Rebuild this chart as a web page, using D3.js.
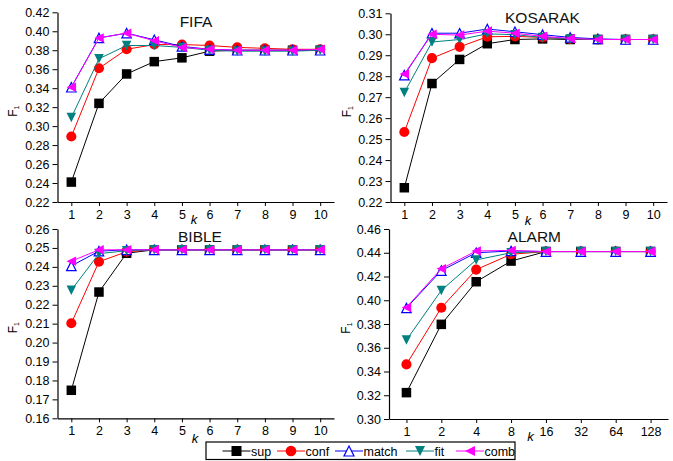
<!DOCTYPE html>
<html>
<head>
<meta charset="utf-8">
<script src="https://cdn.jsdelivr.net/npm/d3@7"></script>
<style>
  body { margin: 0; background: #fff; }
  text { font-family: "Liberation Sans", Arial, sans-serif; font-weight: normal; }
</style>
</head>
<body>
<svg id="chart" width="673" height="461"></svg>
<script>
// ---- data ----
const kLinear = [1, 2, 3, 4, 5, 6, 7, 8, 9, 10];
const kAlarm = [1, 2, 4, 8, 16, 32, 64, 128];
const seriesNames = ['sup', 'conf', 'match', 'fit', 'comb'];
const seriesColors = ['#000000', '#ff0000', '#0000ff', '#008080', '#ff00ff'];

const fifaSup   = [0.241, 0.324, 0.355, 0.368, 0.372, 0.379, 0.380, 0.380, 0.380, 0.380];
const fifaConf  = [0.289, 0.361, 0.381, 0.386, 0.386, 0.385, 0.383, 0.382, 0.381, 0.381];
const fifaMatch = [0.341, 0.393, 0.398, 0.391, 0.384, 0.381, 0.380, 0.380, 0.380, 0.380];
const fifaFit   = [0.309, 0.371, 0.385, 0.385, 0.383, 0.380, 0.379, 0.379, 0.379, 0.380];
const fifaComb  = [0.341, 0.393, 0.398, 0.390, 0.383, 0.381, 0.380, 0.380, 0.380, 0.381];

const kosSup   = [0.2268, 0.2765, 0.2880, 0.2955, 0.2975, 0.2978, 0.2975, 0.2975, 0.2975, 0.2975];
const kosConf  = [0.2534, 0.2886, 0.2940, 0.2988, 0.2990, 0.2985, 0.2978, 0.2975, 0.2975, 0.2975];
const kosMatch = [0.2805, 0.3005, 0.3005, 0.3025, 0.3012, 0.2998, 0.2985, 0.2978, 0.2975, 0.2975];
const kosFit   = [0.2722, 0.2963, 0.2975, 0.3002, 0.2998, 0.2985, 0.2978, 0.2975, 0.2975, 0.2975];
const kosComb  = [0.2810, 0.3000, 0.2996, 0.3015, 0.3005, 0.2990, 0.2980, 0.2975, 0.2975, 0.2975];

const bibSup   = [0.1748, 0.2267, 0.2472, 0.2490, 0.2490, 0.2490, 0.2490, 0.2490, 0.2490, 0.2490];
const bibConf  = [0.2102, 0.2427, 0.2480, 0.2490, 0.2490, 0.2490, 0.2490, 0.2490, 0.2490, 0.2490];
const bibMatch = [0.2405, 0.2483, 0.2490, 0.2490, 0.2490, 0.2490, 0.2490, 0.2490, 0.2490, 0.2490];
const bibFit   = [0.2277, 0.2470, 0.2485, 0.2490, 0.2490, 0.2490, 0.2490, 0.2490, 0.2490, 0.2490];
const bibComb  = [0.2430, 0.2490, 0.2490, 0.2490, 0.2490, 0.2490, 0.2490, 0.2490, 0.2490, 0.2490];

const alaSup   = [0.3222, 0.3797, 0.4156, 0.4330, 0.4410, 0.4410, 0.4410, 0.4410];
const alaConf  = [0.3460, 0.3937, 0.4258, 0.4387, 0.4410, 0.4410, 0.4410, 0.4410];
const alaMatch = [0.3935, 0.4250, 0.4400, 0.4415, 0.4410, 0.4410, 0.4410, 0.4410];
const alaFit   = [0.3665, 0.4083, 0.4340, 0.4400, 0.4410, 0.4410, 0.4410, 0.4410];
const alaComb  = [0.3940, 0.4265, 0.4415, 0.4420, 0.4410, 0.4410, 0.4410, 0.4410];

const fifaTicks = [0.22, 0.24, 0.26, 0.28, 0.30, 0.32, 0.34, 0.36, 0.38, 0.40, 0.42];
const kosTicks  = [0.22, 0.23, 0.24, 0.25, 0.26, 0.27, 0.28, 0.29, 0.30, 0.31];
const bibTicks  = [0.16, 0.17, 0.18, 0.19, 0.20, 0.21, 0.22, 0.23, 0.24, 0.25, 0.26];
const alaTicks  = [0.30, 0.32, 0.34, 0.36, 0.38, 0.40, 0.42, 0.44, 0.46];

// ---- layout ----
const panels = [
    { title: 'FIFA', k: kLinear, values: [fifaSup, fifaConf, fifaMatch, fifaFit, fifaComb], ticks: fifaTicks,
      xr: [57.5, 334], yr: [202, 12.3], titleX: 196, titleY: 26.5, kX: 194, kY: 224, fX: 17 },
    { title: 'KOSARAK', k: kLinear, values: [kosSup, kosConf, kosMatch, kosFit, kosComb], ticks: kosTicks,
      xr: [390.5, 667], yr: [202, 13.3], titleX: 542.5, titleY: 23.3, kX: 528, kY: 225, fX: 351 },
    { title: 'BIBLE', k: kLinear, values: [bibSup, bibConf, bibMatch, bibFit, bibComb], ticks: bibTicks,
      xr: [57.5, 334], yr: [418.3, 229], titleX: 200, titleY: 242.3, kX: 195, kY: 443, fX: 17 },
    { title: 'ALARM', k: kAlarm, values: [alaSup, alaConf, alaMatch, alaFit, alaComb], ticks: alaTicks,
      xr: [389, 668], yr: [419, 229], titleX: 534.3, titleY: 241.7, kX: 530.5, kY: 441, fX: 350 }
];

const svg = d3.select('#chart');
const fmt = d3.format('.2f');
const sans = '"Liberation Sans", Arial, sans-serif';

const drawMarker = (g, i, s) => {
    const c = seriesColors[i];
    const h = s / 2;
    if (i === 0) {
        g.append('rect').attr('x', -h).attr('y', -h).attr('width', s).attr('height', s).attr('fill', c);
    } else if (i === 1) {
        g.append('circle').attr('r', h + 0.3).attr('fill', c);
    } else if (i === 2) {
        g.append('path').attr('d', `M0,${-h}L${h},${h}L${-h},${h}Z`)
            .attr('fill', '#fff').attr('stroke', c).attr('stroke-width', 1.2);
    } else if (i === 3) {
        g.append('path').attr('d', `M${-h},${-h}L${h},${-h}L0,${h}Z`).attr('fill', c);
    } else {
        g.append('path').attr('d', `M${-h},0L${h},${-h}L${h},${h}Z`).attr('fill', c);
    }
};

panels.forEach(p => {
    const x = d3.scalePoint().domain(p.k).range(p.xr).padding(0.5);
    const y = d3.scaleLinear().domain([p.ticks[0], p.ticks[p.ticks.length - 1]]).range(p.yr);
    const g = svg.append('g');

    g.append('g')
        .attr('transform', `translate(0,${p.yr[0]})`)
        .call(d3.axisBottom(x).tickSize(4).tickSizeOuter(0).tickPadding(4))
        .call(a => a.selectAll('text').attr('font-size', 12.5).attr('font-family', sans).attr('fill', '#000'));

    g.append('g')
        .attr('transform', `translate(${p.xr[0]},0)`)
        .call(d3.axisLeft(y).tickValues(p.ticks).tickFormat(fmt).tickSize(5).tickSizeOuter(0).tickPadding(3))
        .call(a => a.selectAll('text').attr('font-size', 12.5).attr('font-family', sans).attr('fill', '#000'));

    g.selectAll('.domain').attr('stroke', '#000').attr('stroke-width', 1.2);
    g.selectAll('.tick line').attr('stroke', '#000');

    g.append('text')
        .attr('x', p.titleX).attr('y', p.titleY)
        .attr('text-anchor', 'middle').attr('font-size', 15.5)
        .attr('font-weight', 'normal').attr('fill', '#111')
        .text(p.title);

    g.append('text')
        .attr('x', p.kX).attr('y', p.kY)
        .attr('text-anchor', 'middle')
        .attr('font-family', '"Liberation Serif", "DejaVu Serif", serif')
        .attr('font-style', 'italic').attr('font-size', 13)
        .text('k');

    const yMid = (p.yr[0] + p.yr[1]) / 2 + 4;
    const fl = g.append('text')
        .attr('transform', `translate(${p.fX},${yMid}) rotate(-90)`)
        .attr('text-anchor', 'middle')
        .attr('font-family', '"Liberation Serif", "DejaVu Serif", serif')
        .attr('font-size', 12);
    fl.append('tspan').text('F');
    fl.append('tspan').attr('font-size', 7).attr('dy', 2).text('1');

    p.values.forEach((vals, si) => {
        const line = d3.line().x((d, j) => x(p.k[j])).y(d => y(d));
        g.append('path')
            .datum(vals)
            .attr('d', line)
            .attr('fill', 'none')
            .attr('stroke', seriesColors[si])
            .attr('stroke-width', 1);
        g.selectAll(null)
            .data(vals)
            .enter()
            .append('g')
            .attr('transform', (d, j) => `translate(${x(p.k[j])},${y(d)})`)
            .each(function () { drawMarker(d3.select(this), si, 9.5); });
    });
});

// ---- legend ----
const legendX = [222.5, 277, 335, 406, 456];
const legend = svg.append('g');
legend.append('rect')
    .attr('x', 206).attr('y', 442).attr('width', 309).attr('height', 17.5)
    .attr('fill', '#fff').attr('stroke', '#000').attr('stroke-width', 1.2);

seriesNames.forEach((name, i) => {
    const lx = legendX[i];
    const item = legend.append('g').attr('transform', `translate(${lx},451)`);
    item.append('line').attr('x1', 0).attr('x2', 28).attr('stroke', seriesColors[i]).attr('stroke-width', 1);
    const m = item.append('g').attr('transform', 'translate(14,0)');
    drawMarker(m, i, 10);
    item.append('text')
        .attr('x', 28.5).attr('y', 0).attr('dy', '0.36em')
        .attr('font-size', 12.5)
        .text(name);
});
</script>
</body>
</html>
